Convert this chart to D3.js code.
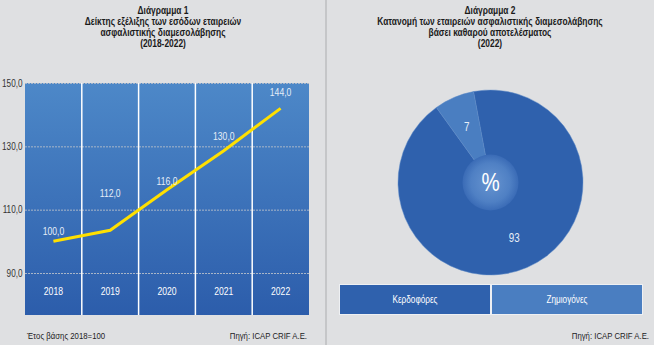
<!DOCTYPE html>
<html><head><meta charset="utf-8">
<script src="https://cdn.jsdelivr.net/npm/d3@7"></script>
<style>
html,body{margin:0;padding:0;background:#dfe0e2;}
svg{display:block;}
text{font-family:"Liberation Sans",Arial,sans-serif;}
</style></head>
<body>
<script>
// ---- data ----
const years = ["2018","2019","2020","2021","2022"];
const indexValues = [100, 103.5, 116.3, 128.6, 142];       // plotted line
const indexLabels = [100.0, 112.0, 116.0, 130.0, 144.0];   // printed labels
const yTicks = [90, 110, 130, 150];
const pieCategories = ["Κερδοφόρες","Ζημιογόνες"];
const pieValues = [93, 7];
const title1 = ["Διάγραμμα 1","Δείκτης εξέλιξης των εσόδων εταιρειών","ασφαλιστικής διαμεσολάβησης","(2018-2022)"];
const title2 = ["Διάγραμμα 2","Κατανομή των εταιρειών ασφαλιστικής διαμεσολάβησης","βάσει καθαρού αποτελέσματος","(2022)"];

const W=654,H=345,SX=0.82;
const svg=d3.select("body").append("svg").attr("width",W).attr("height",H);
svg.append("rect").attr("width",W).attr("height",H).attr("fill","#dfe0e2");
const defs=svg.append("defs");
const lg=defs.append("linearGradient").attr("id","bg").attr("x1",0).attr("y1",0).attr("x2",0).attr("y2",1);
lg.append("stop").attr("offset","0%").attr("stop-color","#4d88c8");
lg.append("stop").attr("offset","100%").attr("stop-color","#2c5dab");
const rg=defs.append("radialGradient").attr("id","disc");
rg.append("stop").attr("offset","0%").attr("stop-color","#6794d0");
rg.append("stop").attr("offset","70%").attr("stop-color","#4f80c4");
rg.append("stop").attr("offset","100%").attr("stop-color","#3a6bb6");

function T(parent,x,y,str,size,anchor,fill,weight,sx){
  return parent.append("text").attr("transform",`translate(${x},${y}) scale(${sx||SX},1)`)
    .attr("text-anchor",anchor||"start").attr("font-size",size).attr("fill",fill||"#222")
    .attr("font-weight",weight||"normal").text(str);
}

// divider
svg.append("rect").attr("x",325).attr("y",0).attr("width",2).attr("height",H).attr("fill","#c5c6c8");

const fmt=v=>d3.format(".1f")(v).replace(".",",");

// titles
function title(lines,cx){
  lines.forEach((t,i)=>T(svg,cx,14+i*11,t,10.5,"middle","#1a1a1a","bold",0.8));
}
title(title1,163);
title(title2,490);

// ---- left chart ----
const L=25,R=309,Tp=83,B=315;
const x=d3.scaleBand().domain(years).range([L,R]).padding(0);
const y=d3.scaleLinear().domain([90,150]).range([273,Tp]);
svg.append("rect").attr("x",L).attr("y",Tp).attr("width",R-L).attr("height",B-Tp).attr("fill","url(#bg)");
// gridlines
svg.append("g").selectAll("line").data(yTicks).join("line")
  .attr("x1",L).attr("x2",R).attr("y1",d=>y(d)+0.5).attr("y2",d=>y(d)+0.5)
  .attr("stroke","#a9b6c8").attr("stroke-width",1).attr("stroke-dasharray","2,1");
// vertical separators
svg.append("g").selectAll("line").data(years.slice(1)).join("line")
  .attr("x1",d=>x(d)).attr("x2",d=>x(d)).attr("y1",Tp).attr("y2",B)
  .attr("stroke","#ffffff").attr("stroke-width",1.5);
// y axis
const ya=svg.append("g").attr("transform",`translate(${L},0)`)
  .call(d3.axisLeft(y).tickValues(yTicks).tickSize(0).tickPadding(3).tickFormat(fmt));
ya.select(".domain").remove();
ya.selectAll("text").attr("font-size",10).attr("fill","#333").attr("font-family",null)
  .attr("transform",`scale(${SX},1)`);
// x axis labels inside
const xa=svg.append("g").attr("transform",`translate(0,${B})`)
  .call(d3.axisBottom(x).tickSize(0).tickPadding(-27));
xa.select(".domain").remove();
xa.selectAll("text").attr("font-size",10.5).attr("fill","#ffffff").attr("font-family",null)
  .attr("transform",`scale(${SX},1)`);
// line
const line=d3.line().x((d,i)=>x(years[i])+x.bandwidth()/2).y(d=>y(d));
svg.append("path").datum(indexValues).attr("d",line).attr("fill","none")
  .attr("stroke","#ffe000").attr("stroke-width",3);
// labels
const lab=svg.append("g");
indexLabels.forEach((d,i)=>T(lab,x(years[i])+x.bandwidth()/2,y(d)-6,fmt(d),10.5,"middle","#e6eef8"));
// footnotes
T(svg,27,339,"Έτος βάσης 2018=100",9.5,"start","#222");
T(svg,307,339,"Πηγή:  ICAP CRIF A.E.",9.5,"end","#222");
T(svg,649,339,"Πηγή:  ICAP CRIF A.E.",9.5,"end","#222");

// ---- pie ----
const cx=490.5,cy=182.5,r=92.5;
const colors=d3.scaleOrdinal().domain(pieCategories).range(["#2f61ad","#4a7ec1"]);
const start=-10.6*Math.PI/180;
const pie=d3.pie().sort(null).startAngle(start).endAngle(start+2*Math.PI);
const arcs=pie(pieValues);
const arc=d3.arc().innerRadius(0).outerRadius(r);
const labArc=d3.arc().innerRadius(60.5).outerRadius(60.5);
const pg=svg.append("g").attr("transform",`translate(${cx},${cy})`);
pg.selectAll("path").data(arcs).join("path").attr("d",arc)
  .attr("fill",(d,i)=>colors(pieCategories[i])).attr("stroke","#5a88c6").attr("stroke-width",0.5);
pg.append("circle").attr("r",28).attr("fill","url(#disc)");
T(pg,0,8,"%",25,"middle","#fff");
arcs.forEach(d=>{const c=labArc.centroid(d);T(pg,c[0],c[1]+4,d.data,12,"middle","#e8eef8");});

// legend
const lx=340,ly=285,lw=150,lh=29;
svg.append("rect").attr("x",lx-1).attr("y",ly-1).attr("width",2*lw+4).attr("height",lh+2).attr("fill","#eef0f3");
pieCategories.forEach((c,i)=>{
  svg.append("rect").attr("x",lx+i*(lw+2)).attr("y",ly).attr("width",lw).attr("height",lh).attr("fill",colors(c));
  T(svg,lx+i*(lw+2)+lw/2,ly+lh/2+3.5,c,10,"middle","#fff");
});
</script>
</body></html>
